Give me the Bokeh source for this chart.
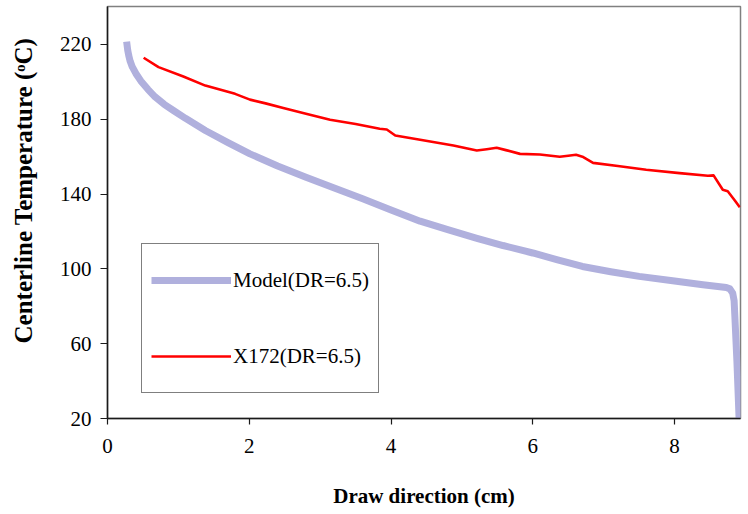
from bokeh.plotting import figure
from bokeh.models import Range1d, FixedTicker, Legend, LegendItem
from bokeh.embed import file_html
from bokeh.resources import INLINE

# ---- data ----
model_x = [0.27, 0.285, 0.30, 0.32, 0.35, 0.40, 0.47, 0.57, 0.67, 0.80, 0.93, 1.10,
           1.38, 1.70, 2.01, 2.40, 2.80, 3.19, 3.60, 4.00, 4.41, 4.80, 5.20, 5.58,
           6.00, 6.35, 6.70, 7.10, 7.50, 8.00, 8.40, 8.73, 8.78, 8.82, 8.84, 8.85,
           8.88, 8.91]
model_y = [221.5, 217, 214, 211, 208, 204.5, 200.5, 196, 192, 188, 184.7, 180.5,
           174, 167.5, 161.5, 155, 149, 143.4, 137.5, 131.5, 125.5, 121, 116.5, 112.5,
           108.5, 104.8, 101.3, 98.5, 96, 93.5, 91.5, 90, 89.3, 87, 83, 75,
           50, 20]

exp_x = [0.51, 0.72, 1.07, 1.38, 1.80, 2.01, 2.23, 2.48, 2.80, 3.14, 3.50, 3.84,
         3.94, 4.06, 4.41, 4.88, 5.21, 5.35, 5.49, 5.62, 5.82, 6.10, 6.38, 6.50,
         6.61, 6.70, 6.85, 7.20, 7.60, 8.07, 8.47, 8.55, 8.68, 8.75, 8.85, 8.92]
exp_y = [212.9, 207.9, 202.9, 198, 193.6, 190.5, 188.5, 186, 183, 179.7, 177.5, 174.9,
         174.5, 171.3, 169, 166, 163.3, 164, 164.8, 163.5, 161.5, 161.2, 160, 160.5,
         161, 160, 156.7, 155, 153, 151.2, 149.8, 150, 142.3, 141.5, 136.6, 133]

x_ticks = [0, 2, 4, 6, 8]
y_ticks = [20, 60, 100, 140, 180, 220]

x_title = "Draw direction (cm)"
y_title = "Centerline Temperature (\u1d52C)"
model_name = "Model(DR=6.5)"
exp_name = "X172(DR=6.5)"

FONT = "Liberation Serif"
NBSP = "\u00a0"

p = figure(width=748, height=514, output_backend="svg", toolbar_location=None,
           x_range=Range1d(0, 8.93), y_range=Range1d(20, 240.3),
           min_border_left=107, min_border_right=8, min_border_top=6,
           min_border_bottom=96)

p.xgrid.visible = False
p.ygrid.visible = False
p.outline_line_color = "#808080"
p.outline_line_width = 1.5
p.background_fill_color = "white"
p.border_fill_color = "white"

for ax in (p.xaxis[0], p.yaxis[0]):
    ax.axis_line_color = "#1a1a1a"
    ax.axis_line_width = 1.5
    ax.major_tick_line_color = "#1a1a1a"
    ax.major_tick_line_width = 1.2
    ax.major_tick_in = 0
    ax.minor_tick_line_color = None
    ax.major_label_text_font = FONT
    ax.major_label_text_font_size = "21px"
    ax.major_label_text_color = "black"
    ax.axis_label_text_font = FONT
    ax.axis_label_text_font_style = "bold"
    ax.axis_label_text_color = "black"

p.xaxis.ticker = FixedTicker(ticks=x_ticks)
p.yaxis.ticker = FixedTicker(ticks=y_ticks)
p.xaxis.major_tick_out = 6
p.yaxis.major_tick_out = 7
p.xaxis.major_label_standoff = 14
p.yaxis.major_label_standoff = 9

p.xaxis.axis_label = x_title
p.xaxis.axis_label_text_font_size = "21px"
p.xaxis.axis_label_standoff = 28

# leading no-break spaces nudge the centred title upward, as in the reference
p.yaxis.axis_label = NBSP * 7 + y_title
p.yaxis.axis_label_text_font_size = "25px"
p.yaxis.axis_label_standoff = 20

r_model = p.line(model_x, model_y, line_color="#b0b0dd", line_width=7,
                 line_join="round")
r_exp = p.line(exp_x, exp_y, line_color="#ff0000", line_width=2.6,
               line_join="round")

legend = Legend(items=[LegendItem(label=model_name, renderers=[r_model]),
                       LegendItem(label=exp_name, renderers=[r_exp])],
                location=(34, 25), orientation="vertical",
                glyph_width=80, glyph_height=54, label_standoff=2,
                spacing=22, padding=9, margin=0,
                label_text_font=FONT, label_text_font_size="21px",
                label_text_color="black",
                border_line_color="black", border_line_width=1.2,
                background_fill_color="white", background_fill_alpha=1)
p.add_layout(legend)

open("out.html", "w").write(file_html(p, INLINE))
